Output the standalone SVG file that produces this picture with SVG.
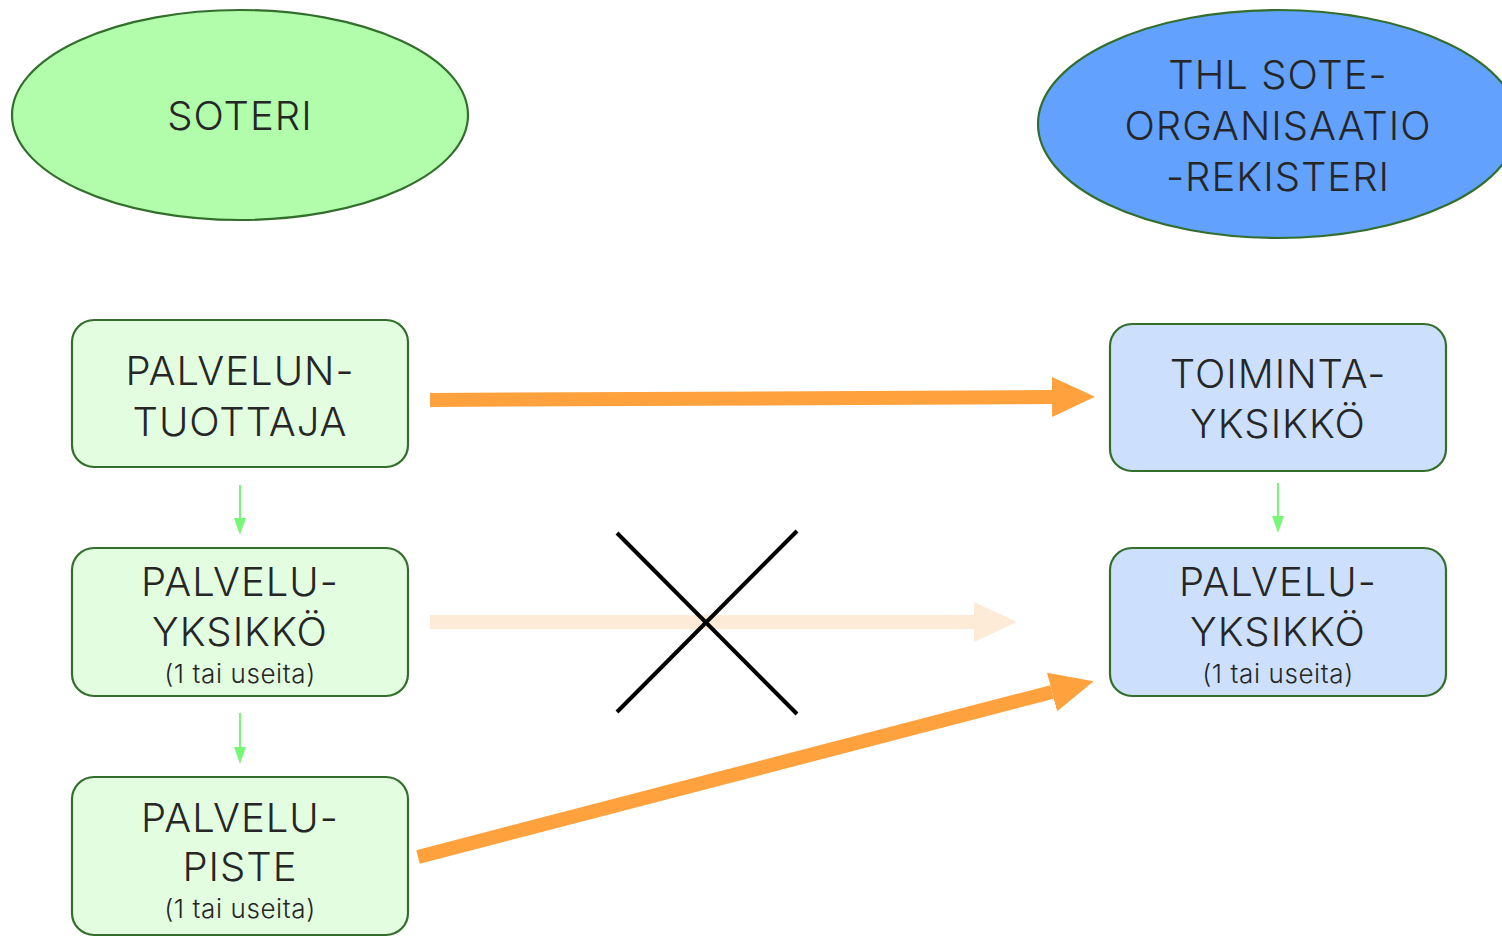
<svg xmlns="http://www.w3.org/2000/svg" width="1502" height="937" viewBox="0 0 1502 937">
<style>
.t{font-family:Inter,"Liberation Sans","DejaVu Sans",sans-serif;font-weight:300;fill:#262626;text-anchor:middle;}
.big{font-size:40px;letter-spacing:1px;}
.sm{font-size:26px;letter-spacing:0.6px;}
.node{stroke:#336e2c;stroke-width:2.2;}
.gbox{fill:#e3fde0;}
.bbox{fill:#cce0fd;}
.or{stroke:#ffa13d;stroke-width:14;fill:none;}
.small{stroke:#77f777;stroke-width:2;fill:none;}
</style>
<defs>
<marker id="ho" viewBox="0 0 43 40" markerWidth="43" markerHeight="40" refX="0" refY="20" markerUnits="userSpaceOnUse" orient="auto"><path d="M0,0 L43,20 L0,40 z" fill="#ffa13d"/></marker>
<marker id="hf" viewBox="0 0 43 40" markerWidth="43" markerHeight="40" refX="0" refY="20" markerUnits="userSpaceOnUse" orient="auto"><path d="M0,0 L43,20 L0,40 z" fill="#fdebd8"/></marker>
<marker id="hg" viewBox="0 0 17 12" markerWidth="17" markerHeight="12" refX="0" refY="6" markerUnits="userSpaceOnUse" orient="auto"><path d="M0,0 L17,6 L0,12 z" fill="#77f777"/></marker>
</defs>
<rect width="1502" height="937" fill="#ffffff"/>
<g id="soteri">
<ellipse cx="240" cy="115" rx="228" ry="105" fill="#b1fdac" class="node"/>
<text class="t big" x="240" y="130">SOTERI</text>
</g>
<g id="thl">
<ellipse cx="1278" cy="124" rx="240" ry="114" fill="#62a2fe" class="node"/>
<text class="t big" x="1278" y="89">THL SOTE-</text>
<text class="t big" x="1278" y="140">ORGANISAATIO</text>
<text class="t big" x="1278" y="191">-REKISTERI</text>
</g>
<g id="palveluntuottaja">
<rect x="72" y="320" width="336" height="147" rx="22" class="node gbox"/>
<text class="t big" x="240" y="385">PALVELUN-</text>
<text class="t big" x="240" y="436">TUOTTAJA</text>
</g>
<g id="palveluyksikko-l">
<rect x="72" y="548" width="336" height="148" rx="22" class="node gbox"/>
<text class="t big" x="240" y="596">PALVELU-</text>
<text class="t big" x="240" y="646">YKSIKKÖ</text>
<text class="t sm" x="240" y="683">(1 tai useita)</text>
</g>
<g id="palvelupiste">
<rect x="72" y="777" width="336" height="158" rx="22" class="node gbox"/>
<text class="t big" x="240" y="832">PALVELU-</text>
<text class="t big" x="240" y="881">PISTE</text>
<text class="t sm" x="240" y="918">(1 tai useita)</text>
</g>
<g id="toimintayksikko">
<rect x="1110" y="324" width="336" height="147" rx="22" class="node bbox"/>
<text class="t big" x="1278" y="388">TOIMINTA-</text>
<text class="t big" x="1278" y="438">YKSIKKÖ</text>
</g>
<g id="palveluyksikko-r">
<rect x="1110" y="548" width="336" height="148" rx="22" class="node bbox"/>
<text class="t big" x="1278" y="596">PALVELU-</text>
<text class="t big" x="1278" y="646">YKSIKKÖ</text>
<text class="t sm" x="1278" y="683">(1 tai useita)</text>
</g>
<g id="connectors">
<line x1="240" y1="485" x2="240" y2="518" class="small" marker-end="url(#hg)"/>
<line x1="240" y1="713" x2="240" y2="747" class="small" marker-end="url(#hg)"/>
<line x1="1278" y1="483" x2="1278" y2="516" class="small" marker-end="url(#hg)"/>
<line x1="430" y1="400" x2="1052" y2="397" class="or" marker-end="url(#ho)"/>
<line x1="430" y1="622" x2="974" y2="622" class="or" style="stroke:#fdebd8" marker-end="url(#hf)"/>
<line x1="418" y1="857" x2="1052" y2="692" class="or" marker-end="url(#ho)"/>
<line x1="617" y1="533" x2="797" y2="714" stroke="#000" stroke-width="4"/>
<line x1="797" y1="531" x2="617" y2="712" stroke="#000" stroke-width="4"/>
</g>
</svg>
